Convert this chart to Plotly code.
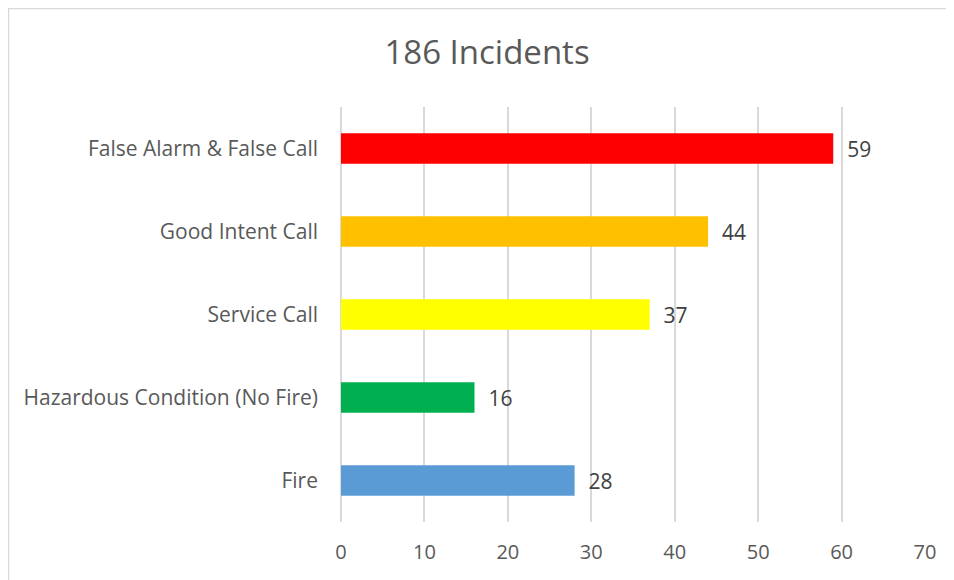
import plotly.graph_objects as go

categories = ["False Alarm & False Call", "Good Intent Call", "Service Call",
              "Hazardous Condition (No Fire)", "Fire"]
values = [59, 44, 37, 16, 28]
colors = ["#FF0000", "#FFC000", "#FFFF00", "#00B050", "#5B9BD5"]
title_text = "186 Incidents"
x_ticks = [0, 10, 20, 30, 40, 50, 60, 70]

# page has an 8px body margin; figure is sized to fill the rest of the window
W, H = 946, 572
L, R, T, B = 333, 29, 99, 58
plot_w = W - L - R
plot_h = H - T - B

fig = go.Figure()
fig.add_trace(go.Bar(
    y=categories, x=values, orientation="h",
    marker=dict(color=colors, line=dict(width=0)),
    text=values, texttemplate="\u00a0\u00a0%{x}", textposition="outside",
    textfont=dict(family="Open Sans", size=21, color="#404040"),
    cliponaxis=False, hoverinfo="skip",
))

fig.update_layout(
    width=W, height=H,
    margin=dict(l=L, r=R, t=T, b=B),
    paper_bgcolor="white", plot_bgcolor="white",
    bargap=0.63,
    showlegend=False,
    title=dict(text=title_text, x=479 / W, xanchor="center", y=1 - 44 / H, yanchor="middle",
               font=dict(family="Open Sans", size=33, color="#595959")),
    font=dict(family="Open Sans", size=20, color="#595959"),
    xaxis=dict(range=[0, 70], tickvals=x_ticks, showgrid=True, gridcolor="#D9D9D9", gridwidth=2,
               zeroline=True, zerolinecolor="#D9D9D9", zerolinewidth=2,
               showline=False, ticks="", ticklabelstandoff=16,
               tickfont=dict(family="Open Sans", size=20, color="#595959")),
    yaxis=dict(categoryorder="array", categoryarray=categories, autorange="reversed",
               showgrid=False, showline=False, ticks="", ticklabelstandoff=22,
               tickfont=dict(family="Open Sans", size=21, color="#595959")),
    shapes=[dict(type="rect", xref="paper", yref="paper", x0=(0.5 - L) / plot_w, x1=3,
                 y0=-3, y1=(plot_h + T - 0.5) / plot_h, line=dict(color="#D9D9D9", width=1.5),
                 fillcolor="rgba(0,0,0,0)", layer="below")],
)

fig.write_html("out.html")
